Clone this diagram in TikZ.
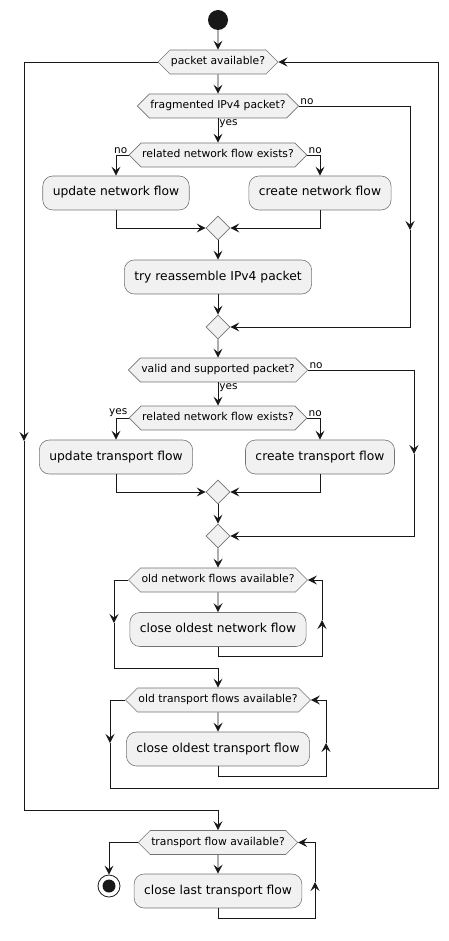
\documentclass[tikz,border=0pt]{standalone}
\usepackage{fontspec}
\setmainfont{DejaVu Sans}
\usetikzlibrary{arrows.meta, shapes.geometric, shapes.symbols}
\definecolor{umlfill}{HTML}{F1F1F1}
\definecolor{umlline}{HTML}{181818}
\tikzset{
  act/.style={draw=umlline!60, line width=0.6pt, fill=umlfill, rounded corners=10pt,
    inner xsep=10pt, inner ysep=11pt, text height=9pt, text depth=3pt,
    font=\fontsize{12.3}{14}\selectfont},
  cond/.style={signal, signal to=west and east, signal pointer angle=90,
    draw=umlline!60, line width=0.6pt, fill=umlfill,
    inner xsep=1pt, inner ysep=6.75pt, text height=8pt, text depth=2.5pt,
    font=\fontsize{10.8}{12}\selectfont},
  merge/.style={diamond, draw=umlline!60, line width=0.6pt, fill=umlfill,
    minimum size=24pt, inner sep=0pt},
  startdot/.style={circle, fill=umlline, minimum size=20pt, inner sep=0pt},
  stopdot/.style={circle, draw=umlline, line width=0.8pt, fill=white, minimum size=22pt, inner sep=0pt,
    path picture={\fill[umlline] (path picture bounding box.center) circle (6.5pt);}},
  flow/.style={draw=umlline, line width=0.9pt, -{Stealth[length=9pt, width=9pt, inset=3.5pt]}},
  lbl/.style={inner sep=1pt, font=\fontsize{10.5}{11}\selectfont}
}
\begin{document}
\begin{tikzpicture}[x=1pt, y=-1pt]
\useasboundingbox (0,0) rectangle (449,941);

% nodes
\node[startdot] (start) at (218,20) {};
\node[cond] (qpkt) at (218,62) {packet available?};
\node[cond] (qfrag) at (218,106) {fragmented IPv4 packet?};
\node[cond] (qnet1) at (218,155) {related network flow exists?};
\node[act] (updnet) at (116,193) {update network flow};
\node[act] (crenet) at (320,193) {create network flow};
\node[merge] (mnet) at (218,228) {};
\node[act] (reasm) at (218,277) {try reassemble IPv4 packet};
\node[merge] (mfrag) at (218,327) {};
\node[cond] (qvalid) at (218,370) {valid and supported packet?};
\node[cond] (qnet2) at (218,418) {related network flow exists?};
\node[act] (updtr) at (116,457) {update transport flow};
\node[act] (cretr) at (320,457) {create transport flow};
\node[merge] (mtr) at (218,492) {};
\node[merge] (mvalid) at (218,536) {};
\node[cond] (qoldnet) at (218,580) {old network flows available?};
\node[act] (closenet) at (218,629.5) {close oldest network flow};
\node[cond] (qoldtr) at (218,700) {old transport flows available?};
\node[act] (closetr) at (218,749) {close oldest transport flow};
\node[cond] (qlast) at (218,842.5) {transport flow available?};
\node[act] (closelast) at (218,891) {close last transport flow};
\node[stopdot] (stop) at (109,886) {};

% bends
\coordinate (pktL) at (24,441);
\coordinate (pktB) at (24,810);
\coordinate (fragR) at (410,230);
\coordinate (validR) at (414,454);
\coordinate (netB) at (322,656);
\coordinate (netUp) at (322,620);
\coordinate (netL) at (114,623);
\coordinate (netLB) at (114,668);
\coordinate (trB) at (326,776);
\coordinate (trUp) at (326,743);
\coordinate (trL) at (110,743);
\coordinate (trLB) at (110,788);
\coordinate (trRB) at (438,788);
\coordinate (lastB) at (315,918);
\coordinate (lastUp) at (315,882);

% main loop
\draw[flow] (start) -- (qpkt);
\draw[flow] (qpkt) -- (qfrag);
\draw[flow] (qpkt.west) -| (pktL);
\draw[flow] (pktL) -- (pktB) -| (qlast.north);

% fragments
\draw[flow] (qfrag.south) -- (qnet1.north) node[pos=0, lbl, anchor=north west] (yfrag) {yes};
\draw[flow] (qfrag.east) node[lbl, anchor=south west] (nfrag) {no} -| (fragR);
\draw[flow] (fragR) |- (mfrag.east);
\draw[flow] (qnet1.west) node[lbl, anchor=south east] (nnet1l) {no} -| (updnet.north);
\draw[flow] (qnet1.east) node[lbl, anchor=south west] (nnet1r) {no} -| (crenet.north);
\draw[flow] (updnet.south) |- (mnet.west);
\draw[flow] (crenet.south) |- (mnet.east);
\draw[flow] (mnet) -- (reasm);
\draw[flow] (reasm) -- (mfrag);
\draw[flow] (mfrag) -- (qvalid);

% transport
\draw[flow] (qvalid.south) -- (qnet2.north) node[pos=0, lbl, anchor=north west] (yvalid) {yes};
\draw[flow] (qvalid.east) node[lbl, anchor=south west] (nvalid) {no} -| (validR);
\draw[flow] (validR) |- (mvalid.east);
\draw[flow] (qnet2.west) node[lbl, anchor=south east] (ynet2) {yes} -| (updtr.north);
\draw[flow] (qnet2.east) node[lbl, anchor=south west] (nnet2) {no} -| (cretr.north);
\draw[flow] (updtr.south) |- (mtr.west);
\draw[flow] (cretr.south) |- (mtr.east);
\draw[flow] (mtr) -- (mvalid);
\draw[flow] (mvalid) -- (qoldnet);

% timeouts
\draw[flow] (qoldnet) -- (closenet);
\draw[flow] (closenet.south) |- (netB) -- (netUp);
\draw[flow] (netUp) |- (qoldnet.east);
\draw[flow] (qoldnet.west) -| (netL);
\draw[flow] (netL) -- (netLB) -| (qoldtr.north);
\draw[flow] (qoldtr) -- (closetr);
\draw[flow] (closetr.south) |- (trB) -- (trUp);
\draw[flow] (trUp) |- (qoldtr.east);
\draw[flow] (qoldtr.west) -| (trL);
\draw[flow] (trL) -- (trLB) -- (trRB) |- (qpkt.east);

% shutdown
\draw[flow] (qlast.west) -| (stop.north);
\draw[flow] (qlast) -- (closelast);
\draw[flow] (closelast.south) |- (lastB) -- (lastUp);
\draw[flow] (lastUp) |- (qlast.east);
\end{tikzpicture}
\end{document}
